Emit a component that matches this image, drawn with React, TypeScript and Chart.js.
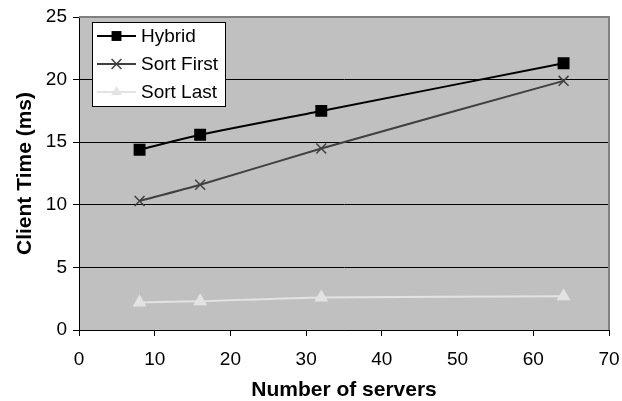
import React, { useEffect, useRef } from "react";
import { Chart, registerables } from "chart.js";

Chart.register(...registerables);

const servers = [8, 16, 32, 64];
const hybrid = [14.4, 15.6, 17.5, 21.3];
const sortFirst = [10.3, 11.6, 14.5, 19.9];
const sortLast = [2.2, 2.3, 2.6, 2.7];
const seriesNames = ["Hybrid", "Sort First", "Sort Last"];

const FONT = "'Liberation Sans', Arial, sans-serif";

function drawPointLocal(ctx: any, style: string, r: number, x: number, y: number) {
  ctx.beginPath();
  if (style === "rect") {
    const s = r * Math.SQRT1_2;
    ctx.fillRect(x - s, y - s, 2 * s, 2 * s);
    return;
  }
  if (style === "crossRot") {
    const s = r * Math.SQRT1_2;
    ctx.moveTo(x - s, y - s);
    ctx.lineTo(x + s, y + s);
    ctx.moveTo(x - s, y + s);
    ctx.lineTo(x + s, y - s);
    ctx.stroke();
    return;
  }
  if (style === "triangle") {
    ctx.moveTo(x, y - r);
    ctx.lineTo(x + r * 0.866, y + r * 0.5);
    ctx.lineTo(x - r * 0.866, y + r * 0.5);
    ctx.closePath();
    ctx.fill();
  }
}

const bgPlugin = {
  id: "plotBg",
  beforeDraw(chart: any) {
    const { ctx, chartArea: a } = chart;
    ctx.save();
    ctx.fillStyle = "#C0C0C0";
    ctx.fillRect(a.left, a.top, a.right - a.left, a.bottom - a.top);
    ctx.restore();
  },
  afterDatasetsDraw(chart: any) {
    const { ctx, chartArea: a } = chart;
    ctx.save();
    ctx.strokeStyle = "#808080";
    ctx.lineWidth = 2;
    ctx.beginPath();
    ctx.moveTo(a.left, a.top);
    ctx.lineTo(a.right, a.top);
    ctx.lineTo(a.right, a.bottom);
    ctx.stroke();
    // legend
    const x0 = a.left + 13, y0 = a.top + 5, w = 133, h = 84;
    ctx.fillStyle = "#FFFFFF";
    ctx.fillRect(x0, y0, w, h);
    ctx.strokeStyle = "#000000";
    ctx.lineWidth = 1;
    ctx.strokeRect(x0 + 0.5, y0 + 0.5, w, h);
    const ds = chart.data.datasets;
    ctx.font = `19px ${FONT}`;
    ctx.textBaseline = "middle";
    for (let i = 0; i < ds.length; i++) {
      const cy = y0 + 14 + i * 28;
      const lx1 = x0 + 5, lx2 = x0 + 44;
      ctx.strokeStyle = ds[i].borderColor;
      ctx.lineWidth = 2;
      ctx.beginPath();
      ctx.moveTo(lx1, cy);
      ctx.lineTo(lx2, cy);
      ctx.stroke();
      ctx.strokeStyle = ds[i].pointBorderColor;
      ctx.fillStyle = ds[i].pointBackgroundColor;
      ctx.lineWidth = 1.5;
      drawPointLocal(ctx, ds[i].pointStyle, ds[i].pointRadius, (lx1 + lx2) / 2, cy);
      ctx.fillStyle = "#000000";
      ctx.fillText(ds[i].label, x0 + 49, cy + 1);
    }
    ctx.restore();
  },
};

export default function App() {
  const ref = useRef<HTMLCanvasElement>(null);
  useEffect(() => {
    document.body.style.margin = "0";
    const mk = (arr: number[]) => servers.map((x, i) => ({ x, y: arr[i] }));
    const chart = new Chart(ref.current!, {
      type: "line",
      data: {
        datasets: [
          {
            label: seriesNames[0],
            data: mk(hybrid),
            borderColor: "#000000",
            backgroundColor: "#000000",
            pointBackgroundColor: "#000000",
            pointBorderColor: "#000000",
            pointStyle: "rect",
            pointRadius: 7,
            borderWidth: 2,
            tension: 0.2,
          },
          {
            label: seriesNames[1],
            data: mk(sortFirst),
            borderColor: "#404040",
            backgroundColor: "#404040",
            pointBackgroundColor: "#404040",
            pointBorderColor: "#404040",
            pointStyle: "crossRot",
            pointRadius: 7,
            pointBorderWidth: 1.5,
            borderWidth: 2,
            tension: 0.2,
          },
          {
            label: seriesNames[2],
            data: mk(sortLast),
            borderColor: "#E3E3E3",
            backgroundColor: "#E3E3E3",
            pointBackgroundColor: "#E3E3E3",
            pointBorderColor: "#E3E3E3",
            pointStyle: "triangle",
            pointRadius: 6,
            borderWidth: 2,
            tension: 0.2,
          },
        ] as any,
      },
      options: {
        animation: false,
        responsive: false,
        layout: { padding: { left: 0, top: 17, right: 13, bottom: 0 } },
        plugins: { legend: { display: false }, tooltip: { enabled: false } },
        scales: {
          x: {
            type: "linear",
            min: 0,
            max: 70,
            ticks: { stepSize: 10, color: "#000", font: { family: FONT, size: 19 }, padding: 12 },
            grid: { drawOnChartArea: false, tickLength: 6, color: "#000", tickColor: "#000" },
            border: { color: "#000", width: 1 },
            title: { display: true, text: "Number of servers", color: "#000", font: { family: FONT, size: 21, weight: "bold", lineHeight: 1 }, padding: { top: 4, bottom: 0 } },
            afterFit(s: any) { s.height = 71; s.paddingLeft = 0; s.paddingRight = 0; },
          },
          y: {
            min: 0,
            max: 25,
            ticks: { stepSize: 5, color: "#000", font: { family: FONT, size: 19 }, padding: 6 },
            grid: { color: "#000", tickColor: "#000", tickLength: 6, lineWidth: 1 },
            border: { color: "#000", width: 1 },
            title: { display: true, text: "Client Time (ms)", color: "#000", font: { family: FONT, size: 21, weight: "bold" }, padding: { top: 13, bottom: 4 } },
            afterFit(s: any) { s.width = 79; s.paddingTop = 0; s.paddingBottom = 0; },
          },
        },
      } as any,
      plugins: [bgPlugin],
    });
    return () => chart.destroy();
  }, []);
  return (
    <div style={{ width: 622, height: 401 }}>
      <canvas ref={ref} width={622} height={401} style={{ display: "block" }} />
    </div>
  );
}
